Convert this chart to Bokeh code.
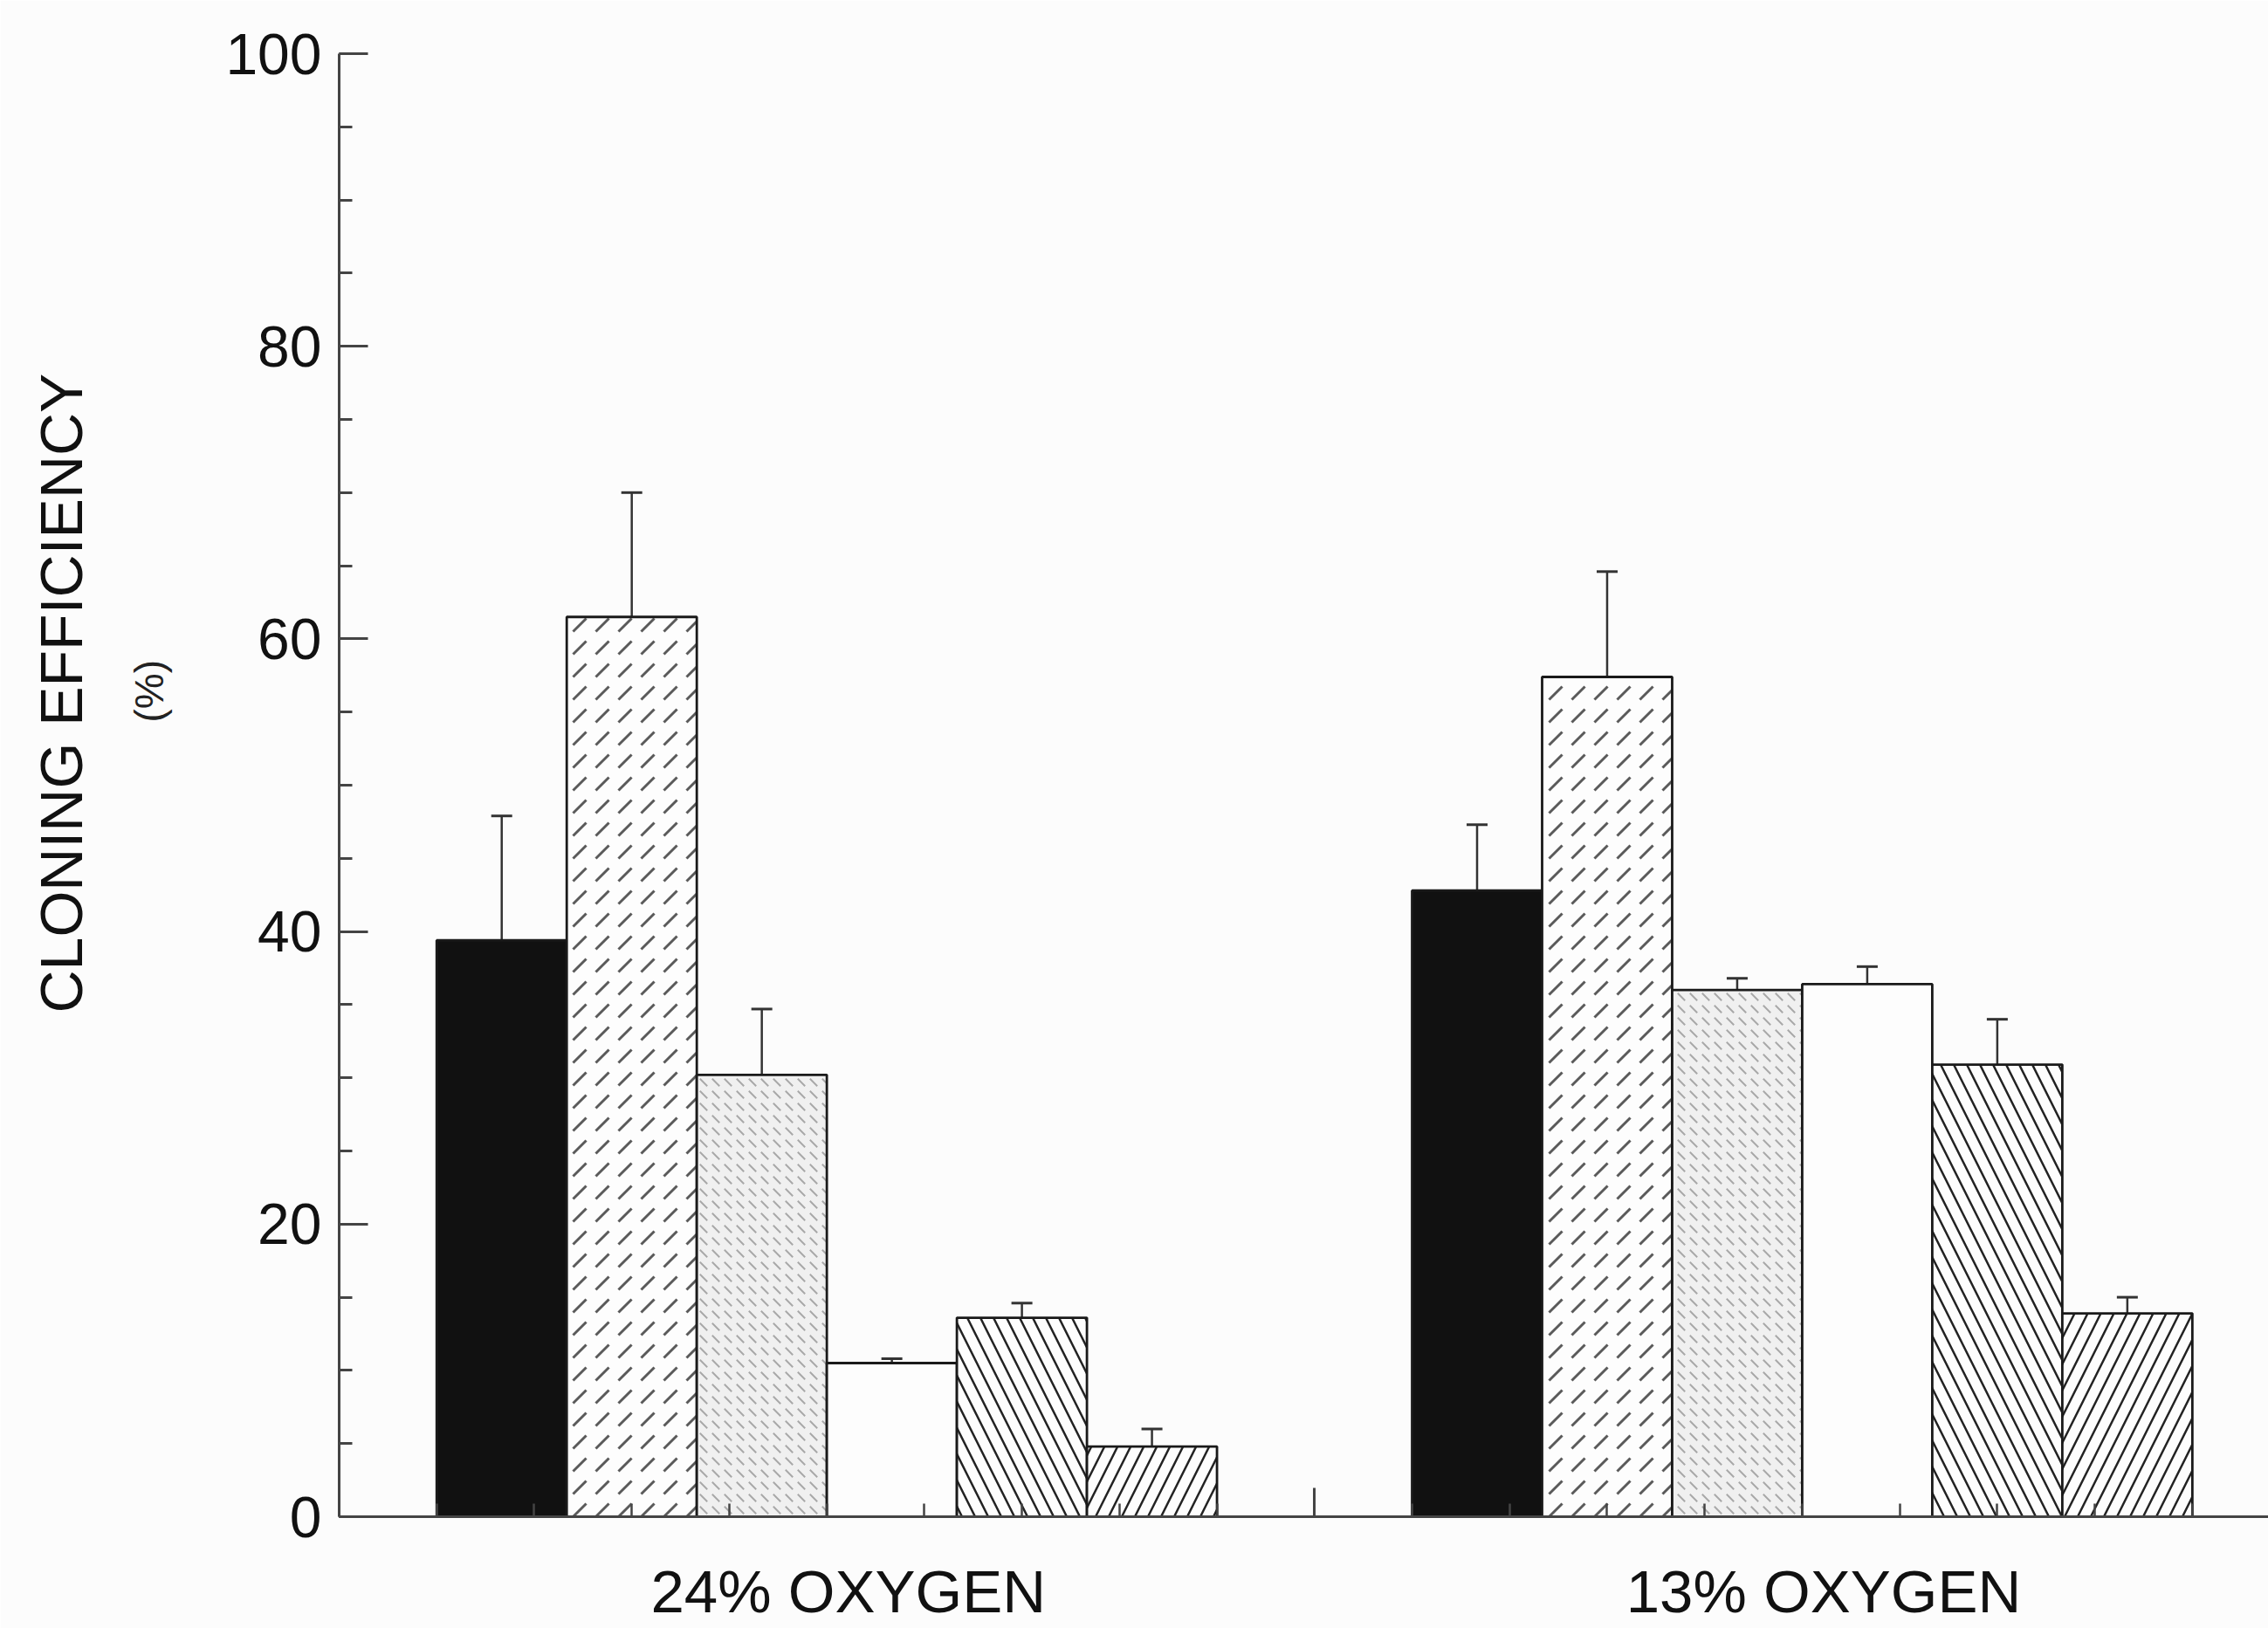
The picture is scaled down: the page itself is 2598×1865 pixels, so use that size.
from bokeh.plotting import figure
from bokeh.models import (ColumnDataSource, Range1d, FixedTicker, LinearAxis,
                          Whisker, TeeHead, Title)
from bokeh.embed import file_html
from bokeh.resources import INLINE

# ---------------- data ----------------
groups = ["24% OXYGEN", "13% OXYGEN"]
y_ticks = [0, 20, 40, 60, 80, 100]
y_title = "CLONING EFFICIENCY"
y_unit = "(%)"

series_1 = [39.4, 42.8]
series_2 = [61.5, 57.4]
series_3 = [30.2, 36.0]
series_4 = [10.5, 36.4]
series_5 = [13.6, 30.9]
series_6 = [4.8, 13.9]

err_1 = [8.5, 4.5]
err_2 = [8.5, 7.2]
err_3 = [4.5, 0.8]
err_4 = [0.3, 1.2]
err_5 = [1.0, 3.1]
err_6 = [1.2, 1.1]

series = [series_1, series_2, series_3, series_4, series_5, series_6]
errors = [err_1, err_2, err_3, err_4, err_5, err_6]

# ---------------- layout ----------------
FONT = "Liberation Sans"
GROUP_SPACING = 10.0
BAR_W = 4.0 / 3.0
LABEL_SHIFT = 0.22
n_series = len(series)
group_centers = [g * GROUP_SPACING + GROUP_SPACING / 2 for g in range(len(groups))]

p = figure(width=2598, height=1865, output_backend="svg", toolbar_location=None,
           x_range=Range1d(0, 19.78), y_range=Range1d(0, 100),
           min_border_left=388, min_border_right=0, min_border_top=61,
           min_border_bottom=128, background_fill_color="#fcfcfc",
           border_fill_color="#fcfcfc")
p.outline_line_color = None
p.xgrid.grid_line_color = None
p.ygrid.grid_line_color = None

styles = [
    dict(fill_color="#111111"),
    dict(fill_color="#fdfdfd", hatch_pattern=",", hatch_color="#5a5a5a",
         hatch_scale=26, hatch_weight=3),
    dict(fill_color="#f0f0f0", hatch_pattern="`", hatch_color="#a8a8a8",
         hatch_scale=14, hatch_weight=2),
    dict(fill_color="#fdfdfd"),
    dict(fill_color="#fdfdfd", hatch_pattern="\\", hatch_color="#222222",
         hatch_scale=30, hatch_weight=2.5),
    dict(fill_color="#fdfdfd", hatch_pattern="/", hatch_color="#222222",
         hatch_scale=30, hatch_weight=2.5),
]

for i, (vals, errs) in enumerate(zip(series, errors)):
    xs = [c + (i - (n_series - 1) / 2) * BAR_W for c in group_centers]
    src = ColumnDataSource(dict(x=xs, top=vals, upper=[v + e for v, e in zip(vals, errs)]))
    p.vbar(x="x", top="top", bottom=0, width=BAR_W, source=src,
           line_color="#1a1a1a", line_width=2.8, **styles[i])
    p.add_layout(Whisker(base="x", lower="top", upper="upper", source=src,
                         line_color="#333333", line_width=2.5, lower_head=None,
                         upper_head=TeeHead(size=24, line_color="#333333", line_width=3)))

AX = "#444444"

# y axis
ya = p.yaxis[0]
ya.ticker = FixedTicker(ticks=y_ticks, minor_ticks=list(range(0, 101, 5)))
ya.axis_line_color = AX
ya.axis_line_width = 3
ya.major_tick_line_color = AX
ya.major_tick_line_width = 3
ya.minor_tick_line_color = AX
ya.minor_tick_line_width = 3
ya.major_tick_in = 33
ya.major_tick_out = 0
ya.minor_tick_in = 15
ya.minor_tick_out = 0
ya.major_label_text_font = FONT
ya.major_label_text_font_size = "66px"
ya.major_label_text_color = "#111111"
ya.major_label_standoff = 20

# y titles (stacked outward from the axis)
p.add_layout(Title(text=y_unit, align="left", offset=910, standoff=118,
                   text_font=FONT, text_font_size="46px", text_font_style="normal",
                   text_color="#222222"), "left")
p.add_layout(Title(text=y_title, align="left", offset=577, standoff=-48,
                   text_font=FONT, text_font_size="68px", text_font_style="normal",
                   text_color="#111111"), "left")

# x axis (ticks only)
xa = p.xaxis[0]
xa.ticker = FixedTicker(ticks=[10, 20], minor_ticks=list(range(0, 21)))
xa.major_label_overrides = {10: "", 20: ""}
xa.major_label_text_font_size = "0px"
xa.major_label_standoff = 0
xa.axis_line_color = AX
xa.axis_line_width = 3
xa.major_tick_line_color = AX
xa.major_tick_line_width = 3
xa.minor_tick_line_color = AX
xa.minor_tick_line_width = 2.5
xa.major_tick_in = 33
xa.major_tick_out = 0
xa.minor_tick_in = 15
xa.minor_tick_out = 0

# group labels axis
label_pos = [c + LABEL_SHIFT for c in group_centers]
ga = LinearAxis(ticker=FixedTicker(ticks=label_pos),
                major_label_overrides={c: g for c, g in zip(label_pos, groups)},
                axis_line_color=None, major_tick_line_color=None,
                minor_tick_line_color=None, major_label_text_font=FONT,
                major_label_text_font_size="69px", major_label_text_color="#111111",
                major_label_standoff=41)
p.add_layout(ga, "below")

open("out.html", "w").write(file_html(p, INLINE))
